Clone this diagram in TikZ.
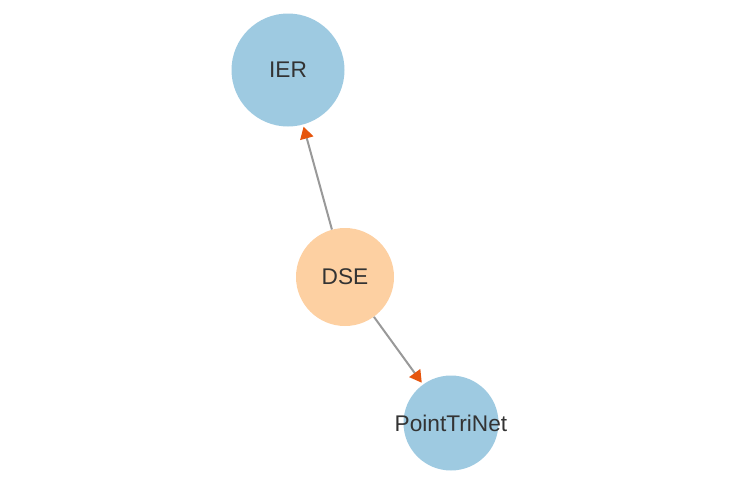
\documentclass[tikz,border=0pt]{standalone}
\usepackage{fontspec}
\setmainfont{Liberation Sans}
\usetikzlibrary{arrows.meta}
\definecolor{nodeblue}{HTML}{9ECAE1}
\definecolor{nodeorange}{HTML}{FDD0A2}
\definecolor{edgegrey}{HTML}{999999}
\definecolor{tiporange}{HTML}{E6550D}
\definecolor{labelgrey}{HTML}{333333}
\begin{document}
\begin{tikzpicture}[
  x=0.75pt, y=-0.75pt,
  every node/.style={circle, inner sep=0pt, font=\fontsize{17}{20}\selectfont, text=labelgrey},
  method/.style={fill=nodeblue},
  focus/.style={fill=nodeorange},
  link/.style={draw=edgegrey, line width=1.5pt, shorten >=1.5pt,
    -{Triangle[length=9pt, width=10pt, fill=tiporange, color=tiporange]}}
]
\useasboundingbox (0,0) rectangle (742,482);
\node[method, minimum size=113*0.75pt] (ier) at (288,70)  {IER};
\node[focus,  minimum size=98*0.75pt]  (dse) at (345,277) {DSE};
\node[method, minimum size=95*0.75pt]  (ptn) at (451,423) {\makebox[0pt]{PointTriNet}};

\draw[link] (dse) -- (ier);
\draw[link] (dse) -- (ptn);
\end{tikzpicture}
\end{document}
